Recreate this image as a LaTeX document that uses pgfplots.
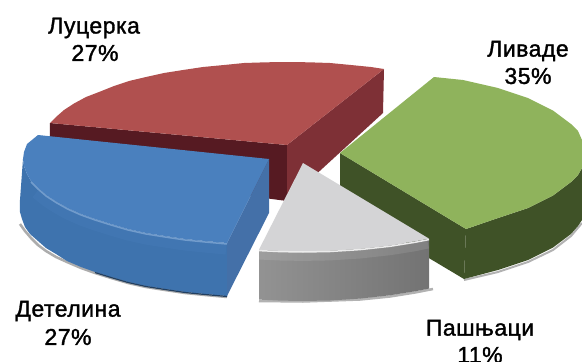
\documentclass[border=0pt]{standalone}
\usepackage{fontspec}
\setmainfont{Liberation Sans}[FakeBold=1.4,LetterSpace=2.2]
\usepackage{pgfplots}
\pgfplotsset{compat=1.18}
\definecolor{redtop}{HTML}{B0504F}
\definecolor{redright}{HTML}{7E3036}
\definecolor{redfront}{HTML}{561A22}
\definecolor{greentop}{HTML}{8FB35C}
\definecolor{greenside}{HTML}{3F5227}
\definecolor{bluetop}{HTML}{4A80BE}
\definecolor{blueside}{HTML}{3E73AE}
\definecolor{bluefacet}{HTML}{4470A8}
\definecolor{greytop}{HTML}{D4D4D6}
\begin{document}
\begin{tikzpicture}
\begin{axis}[
  scale only axis, width=582pt, height=362pt,
  xmin=0, xmax=582, ymin=0, ymax=362, y dir=reverse,
  hide axis, clip=true,
  every axis plot/.append style={no markers, line width=0pt, sharp plot, line join=round},
]
\addplot[fill=white,draw=white] coordinates {(-2,-2) (584,-2) (584,364) (-2,364)} -- cycle;
% red slice
\addplot[fill=redfront,draw=none] coordinates {(50,123) (287,145) (287,201) (50,170)} -- cycle;
\addplot[fill=redright,draw=none] coordinates {(287,145) (384,69) (383,113) (287,201)} -- cycle;
\addplot[fill=redtop,draw=none] coordinates {(50,123) (56,117) (64,110) (74,103.5) (86,97) (99,92) (114,86) (129,81) (146,77) (164,73) (183,70) (203,67) (224,65) (244,63) (266,62.3) (287,62) (309,62.3) (330,63) (351,65) (371,67) (384,69) (287,145)} -- cycle;
% green slice
\addplot[line width=2pt,draw=gray!60] coordinates {(464,280) (498,272) (528,262) (553,250) (571,236) (582,223)};
\addplot[fill=greenside,draw=none] coordinates {(466,229) (498,218) (528,208) (553,195.5) (571,182) (578,175) (582,168) (582,220) (578,226) (571,234) (553,247.5) (528,260) (498,270) (464,279)} -- cycle;
\addplot[fill=greenside,draw=none] coordinates {(340,153) (466,229) (464,279) (340,205)} -- cycle;
\addplot[fill=greentop,draw=none] coordinates {(434,77) (463,80) (498,88) (528,98) (553,110.5) (571,124) (578,131) (582,140) (582,168) (578,175) (571,182) (553,195.5) (528,208) (498,218) (466,229) (340,153)} -- cycle;
% blue slice
\addplot[line width=2.5pt,draw=gray!65] coordinates {(20,224) (25,231) (31,238) (38,245) (46,251) (56,257) (67,262) (81,268) (95,273) (111,278) (128,283) (146,287) (165,290) (185,293) (205,295) (227,297)};
\addplot[fill=blueside,draw=none] coordinates {(23,159) (24,166) (27,174) (31,181) (38,188) (46,195) (56,201.5) (67.5,208) (81,214) (95,219) (111,224) (128,229) (146,233) (165,236) (185,239) (205,241) (227,243) (227,296) (205,294) (185,292) (165,289) (146,286) (128,282) (111,277) (95,272) (81,267) (67,261) (56,254) (46,248) (38,241) (30,234) (25,227) (22,219) (20,212) (20,200)} -- cycle;
\addplot[line width=11pt,draw=bluetop,opacity=0.3] coordinates {(36,193) (46,201) (56,207.5) (67.5,214) (81,220) (95,225) (111,230) (128,235) (146,239) (165,242) (185,245) (205,247) (226,249)};
\addplot[fill=bluefacet,draw=none] coordinates {(269,159) (269,213) (227,296) (227,243)} -- cycle;
\addplot[fill=bluetop,draw=none] coordinates {(38,135) (27,144) (24,152) (23,159) (24,166) (27,174) (31,181) (38,188) (46,195) (56,201.5) (67.5,208) (81,214) (95,219) (111,224) (128,229) (146,233) (165,236) (185,239) (205,241) (227,243) (269,159)} -- cycle;
\addplot[line width=1.5pt,draw=bluetop!78!white] coordinates {(31,182) (38,189) (46,196) (56,202.5) (67.5,209) (81,215) (95,220) (111,225) (128,230) (146,234) (165,237) (185,240) (205,242) (227,244)};
\addplot[line width=1.2pt,draw=black!45!blueside] coordinates {(95,272.5) (111,277.5) (128,282.5) (146,286.5) (165,289.5) (185,292.5) (205,294.5) (227,296.5)};
% grey slice
\addplot[line width=2.5pt,draw=gray!60] coordinates {(259,301) (303,301.5) (360,299.5) (390,296.5) (415,292.5) (433,289)};
\addplot[left color=gray!85,right color=black!55!white,draw=none] coordinates {(259,249.6) (280,250.6) (303,251) (330,250.5) (360,248.6) (390,245.3) (415,241.3) (429,238.6) (429,288.6) (415,291.3) (390,295.3) (360,298.6) (330,300.5) (303,301) (280,300.6) (259,299.6)} -- cycle;
\addplot[line width=9pt,draw=white,opacity=0.1] coordinates {(259,255) (280,256) (303,256.4) (330,255.9) (360,254) (390,250.7) (415,246.7) (428,244)};
\addplot[fill=greytop,draw=none] coordinates {(303,163) (429,238.6) (415,241.3) (390,245.3) (360,248.6) (330,250.5) (303,251) (280,250.6) (259,249.6)} -- cycle;
\addplot[line width=1.5pt,draw=white!85!gray] coordinates {(259,250.6) (280,251.6) (303,252) (330,251.5) (360,249.6) (390,246.3) (415,242.3) (429,239.6)};
% labels
\node[font=\fontsize{23}{23}\selectfont] at (axis cs:94,28) {Луцерка};
\node[font=\fontsize{23}{23}\selectfont] at (axis cs:95,53) {27\%};
\node[font=\fontsize{23}{23}\selectfont] at (axis cs:528,51) {Ливаде};
\node[font=\fontsize{23}{23}\selectfont] at (axis cs:528,76) {35\%};
\node[font=\fontsize{23}{23}\selectfont] at (axis cs:68,311) {Детелина};
\node[font=\fontsize{23}{23}\selectfont] at (axis cs:68,337) {27\%};
\node[font=\fontsize{23}{23}\selectfont] at (axis cs:480,330) {Пашњаци};
\node[font=\fontsize{23}{23}\selectfont] at (axis cs:480,355) {11\%};
\end{axis}
\end{tikzpicture}
\end{document}
